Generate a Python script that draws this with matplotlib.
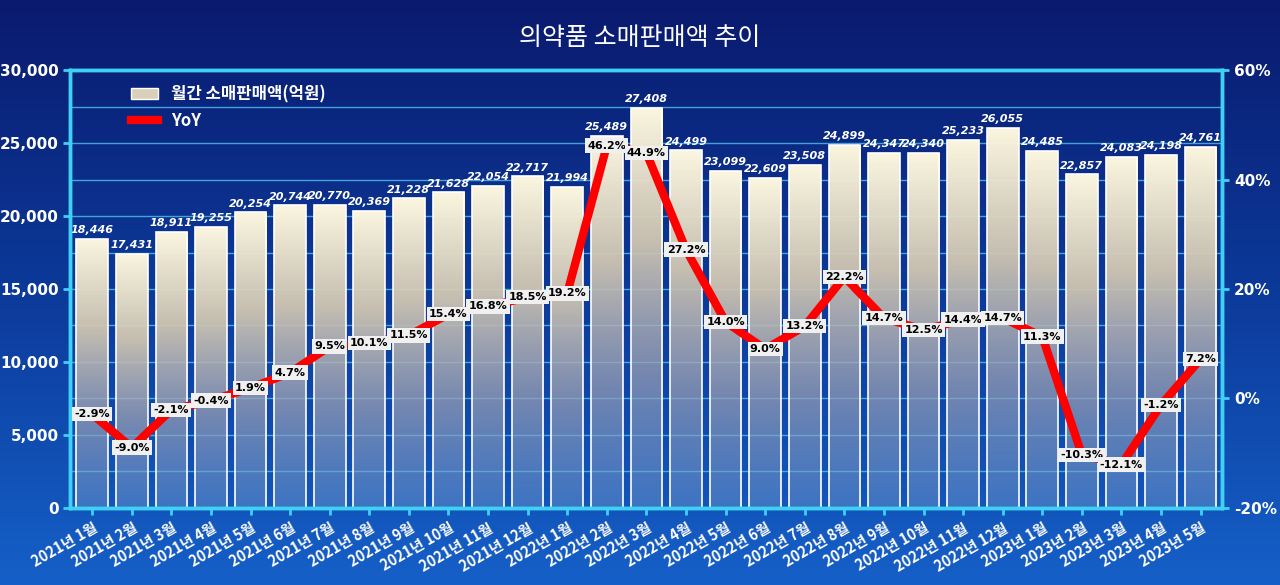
import numpy as np
import matplotlib
matplotlib.use("Agg")
import matplotlib.pyplot as plt
from matplotlib import font_manager as fm
from matplotlib.colors import LinearSegmentedColormap
from matplotlib.patches import Rectangle
from matplotlib.lines import Line2D

names = sorted(set(f.name for f in fm.fontManager.ttflist))
pref = ["Noto Sans CJK KR", "Noto Sans CJK JP", "Noto Sans CJK SC"]
cands = [p for p in pref if p in names] + [n for n in names if "Sans" in n and "CJK" in n]
plt.rcParams["font.family"] = [cands[0] if cands else "DejaVu Sans", "DejaVu Sans"]

categories = [f"2021년 {m}월" for m in range(1, 13)] + [f"2022년 {m}월" for m in range(1, 13)] + [f"2023년 {m}월" for m in range(1, 6)]
sales = [18446, 17431, 18911, 19255, 20254, 20744, 20770, 20369, 21228, 21628, 22054, 22717,
         21994, 25489, 27408, 24499, 23099, 22609, 23508, 24899, 24347, 24340, 25233, 26055,
         24485, 22857, 24083, 24198, 24761]
yoy = [-2.9, -9.0, -2.1, -0.4, 1.9, 4.7, 9.5, 10.1, 11.5, 15.4, 16.8, 18.5,
       19.2, 46.2, 44.9, 27.2, 14.0, 9.0, 13.2, 22.2, 14.7, 12.5, 14.4, 14.7,
       11.3, -10.3, -12.1, -1.2, 7.2]

fig = plt.figure(figsize=(12.8, 5.85), dpi=100)
bg = fig.add_axes([0, 0, 1, 1], zorder=-10)
bgcmap = LinearSegmentedColormap.from_list("bg", ["#0a1a6e", "#0c3a9a", "#1560c8"])
bg.imshow(np.linspace(0, 1, 256).reshape(-1, 1), aspect="auto", cmap=bgcmap, extent=[0, 1, 0, 1])
bg.axis("off")

ax = fig.add_axes([0.055, 0.132, 0.9, 0.748])
ax.patch.set_alpha(0)
n = len(categories)
x = np.arange(n)
for yv in np.arange(2500, 30000, 2500):
    ax.axhline(yv, color="#4fc3f0", lw=1.0, alpha=0.8, zorder=0)

barcmap = LinearSegmentedColormap.from_list("bar", [(0.45, 0.6, 0.8, 0.45), (0.6, 0.62, 0.7, 0.75),
                                                    (0.82, 0.78, 0.7, 0.95), (0.99, 0.97, 0.88, 1.0)])
bars = ax.bar(x, sales, width=0.8, color="none", edgecolor="white", lw=1.2, zorder=2)
for b in bars:
    h = b.get_height()
    im = ax.imshow(np.linspace(0, 1, 256).reshape(-1, 1), aspect="auto", cmap=barcmap,
                   extent=[b.get_x(), b.get_x() + b.get_width(), 0, h], origin="lower", zorder=1)
    im.set_clip_path(b)
for xi, v in zip(x, sales):
    ax.text(xi, v + 250, f"{v:,}", ha="center", va="bottom", color="white", fontsize=8,
            fontweight="bold", style="italic", family="DejaVu Sans", zorder=5)
ax.set_xlim(-0.55, n - 0.45)
ax.set_ylim(0, 30000)
ax.tick_params(colors="#3fd0f5", width=2, length=5)
ax.set_yticks(np.arange(0, 30001, 5000))
ax.set_yticklabels([f"{v:,}" for v in range(0, 30001, 5000)], color="white", fontsize=11, fontweight="bold",
                   family="DejaVu Sans")
ax.set_xticks(x)
ax.set_xticklabels(categories, rotation=30, ha="right", rotation_mode="anchor", color="white",
                   fontsize=10.5, fontweight="bold")
for s in ax.spines.values():
    s.set_color("#3fd0f5"); s.set_linewidth(2.5)

ax2 = ax.twinx()
ax2.set_ylim(-20, 60)
ax2.plot(x, yoy, color="red", lw=6, zorder=3)
for xi, v in zip(x, yoy):
    ax2.text(xi, v, f"{v:.1f}%", ha="center", va="center", fontsize=8, fontweight="bold",
             family="DejaVu Sans", color="black", zorder=6,
             bbox=dict(boxstyle="square,pad=0.2", fc="#f0f0f0", ec="none"))
ax2.tick_params(colors="#3fd0f5", width=2, length=5)
ax2.set_yticks(np.arange(-20, 61, 20))
ax2.set_yticklabels([f"{v}%" for v in range(-20, 61, 20)], color="white", fontsize=11, fontweight="bold",
                    family="DejaVu Sans")
for s in ax2.spines.values():
    s.set_color("#3fd0f5"); s.set_linewidth(2.5)

h1 = Rectangle((0, 0), 1, 1, fc="#d8d0b8", ec="white")
h2 = Line2D([0], [0], color="red", lw=6)
leg = ax2.legend([h1, h2], ["월간 소매판매액(억원)", "YoY"], loc="upper left", bbox_to_anchor=(0.04, 1.0),
                 frameon=False, fontsize=12, labelcolor="white", handlelength=1.6)
for t in leg.get_texts():
    t.set_fontweight("bold")

fig.text(0.5, 0.935, "의약품 소매판매액 추이", ha="center", va="center", color="white", fontsize=18)
fig.savefig("out.png", dpi=100)
